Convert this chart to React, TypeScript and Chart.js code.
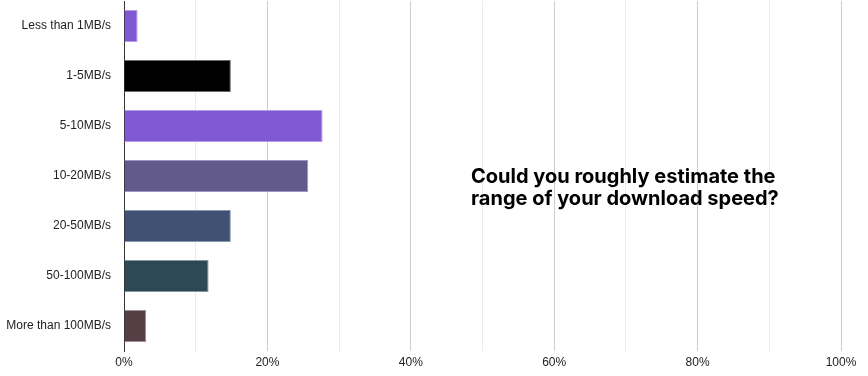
import React, { useEffect, useRef } from "react";
import { Chart, registerables } from "chart.js";

Chart.register(...registerables);

const categories = [
  "Less than 1MB/s",
  "1-5MB/s",
  "5-10MB/s",
  "10-20MB/s",
  "20-50MB/s",
  "50-100MB/s",
  "More than 100MB/s",
];
const percentages = [1.9, 14.9, 27.7, 25.7, 14.9, 11.8, 3.1];
const barColors = ["#805ad5", "#000000", "#805ad5", "#625a8a", "#3f5273", "#2f4858", "#553f44"];
const barBorders = ["#b49be6", "#6b6b6b", "#b49be6", "#9e97c4", "#8a98b0", "#8496a2", "#a08f92"];
const titleLines = ["Could you roughly estimate the", "range of your download speed?"];

const titlePlugin = {
  id: "centerTitle",
  afterDraw(chart: any) {
    const ctx = chart.ctx;
    ctx.save();
    ctx.font = "bold 20px Inter";
    ctx.fillStyle = "#000";
    ctx.textAlign = "left";
    ctx.textBaseline = "alphabetic";
    ctx.fillText(titleLines[0], 471, 182.5);
    ctx.fillText(titleLines[1], 471, 204.5);
    ctx.restore();
  },
};

export default function App() {
  const ref = useRef<HTMLCanvasElement>(null);
  useEffect(() => {
    const chart = new Chart(ref.current!, {
      type: "bar",
      data: {
        labels: categories,
        datasets: [
          {
            data: percentages,
            backgroundColor: barColors,
            borderColor: barBorders,
            borderWidth: 1,
            barPercentage: 0.64,
            categoryPercentage: 1,
          },
        ],
      },
      options: {
        indexAxis: "y",
        animation: false,
        responsive: false,
        maintainAspectRatio: false,
        layout: { padding: { top: 1, right: 27, left: 0, bottom: 0 } },
        plugins: { legend: { display: false }, tooltip: { enabled: false }, title: { display: false } },
        scales: {
          x: {
            min: 0,
            max: 100,
            ticks: {
              stepSize: 10,
              autoSkip: false,
              maxRotation: 0,
              padding: 4,
              color: "#222",
              font: { family: "'Liberation Sans', Arial", size: 12 },
              callback: (v: any) => (Number(v) % 20 === 0 ? v + "%" : ""),
            },
            grid: {
              drawTicks: false,
              color: (c: any) => (c.tick && c.tick.value % 20 === 0 ? "#cccccc" : "#ebebeb"),
              lineWidth: 1,
            },
            border: { display: false },
            afterFit: (s: any) => {
              s.height = 25;
            },
          },
          y: {
            ticks: {
              color: "#222",
              padding: 13,
              font: { family: "'Liberation Sans', Arial", size: 12 },
            },
            grid: { display: false, drawTicks: false },
            border: { display: true, color: "#333", width: 1 },
            afterFit: (s: any) => {
              s.width = 124;
              s.paddingTop = 0;
              s.paddingBottom = 0;
            },
          },
        },
      },
      plugins: [titlePlugin],
    });
    return () => chart.destroy();
  }, []);
  return (
    <div style={{ position: "fixed", left: 0, top: 0, width: 868, height: 376, background: "#fff" }}>
      <canvas ref={ref} width={868} height={376} style={{ width: 868, height: 376 }} />
    </div>
  );
}
